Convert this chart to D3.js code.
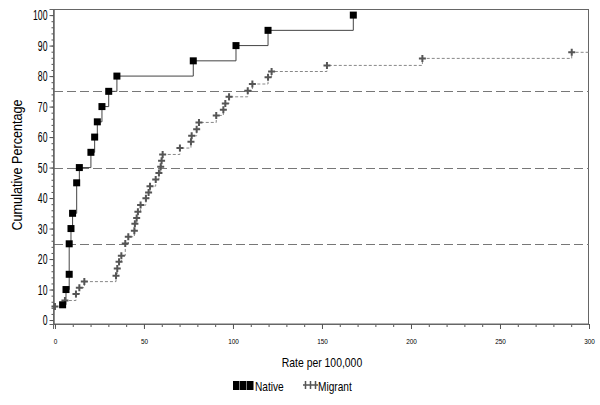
<!DOCTYPE html>
<html>
<head>
<meta charset="utf-8">
<script src="https://cdn.jsdelivr.net/npm/d3@7"></script>
<style>
  body { margin: 0; background: #fff; }
  text { font-family: "Liberation Sans", Arial, sans-serif; }
</style>
</head>
<body>
<div id="chart"></div>
<script>
// values
const nativeRate = [4.3, 6.2, 8.0, 8.0, 9.0, 9.9, 12.2, 13.7, 20.2, 22.3, 23.8, 26.4, 30.2, 34.8, 77.7, 101.7, 119.7, 167.6];
const nativePct  = [5, 10, 15, 25, 30, 35, 45, 50, 55, 60, 65, 70, 75, 80, 85, 90, 95, 100];

const migrantRate = [0, 5.6, 11.8, 13.7, 16.5, 34.3, 35, 36, 37.3, 39.5, 41.2, 44.6, 44.9, 45.9, 46.6, 48.1, 51.1, 52.6,
  53.4, 56.6, 58.4, 59.4, 59.9, 60.5, 70.2, 76.4, 76.8, 79.6, 80.9, 90.6, 94.6, 95.7, 97.8, 108.3, 110.9, 119.7,
  121.7, 152.8, 206.4, 290.3];
const migrantPct  = [4.4, 6.4, 8.5, 10.6, 12.6, 14.5, 16.9, 19.1, 21.1, 25.1, 27.3, 29.3, 31.6, 33.5, 35.5, 37.7, 39.9, 41.8,
  43.9, 46.1, 48.2, 50.3, 52.2, 54.3, 56.4, 58.5, 60.4, 62.6, 64.8, 67.1, 69.0, 71.0, 73.2, 75.2, 77.4, 79.6,
  81.5, 83.5, 85.8, 87.8];

const refLines = [25, 50, 75];
const yTicks = [0, 10, 20, 30, 40, 50, 60, 70, 80, 90, 100];
const xTicks = [0, 50, 100, 150, 200, 250, 300];

const W = 600, H = 405;
const svg = d3.select("#chart").append("svg")
  .attr("width", W).attr("height", H);

const x = d3.scaleLinear().domain([-1.1, 300]).range([53, 589]);
const y = d3.scaleLinear().domain([-1.3, 102]).range([324, 9]);

const nativeData = nativeRate.map((r, i) => ({ r: r, p: nativePct[i] }));
const migrantData = migrantRate.map((r, i) => ({ r: r, p: migrantPct[i] }));

// squeeze text horizontally, the original uses a narrow face
function narrow(sel, k) {
  sel.each(function() {
    const w = this.getComputedTextLength();
    d3.select(this).attr("textLength", w * k).attr("lengthAdjust", "spacingAndGlyphs");
  });
}

// frame
svg.append("rect")
  .attr("x", 53.5).attr("y", 9.5)
  .attr("width", 535).attr("height", 314.5)
  .attr("fill", "none").attr("stroke", "#666").attr("stroke-width", 1);

// reference lines
svg.selectAll(".ref")
  .data(refLines)
  .enter().append("line")
  .attr("x1", 54).attr("x2", 589)
  .attr("y1", d => Math.round(y(d)) + 0.5).attr("y2", d => Math.round(y(d)) + 0.5)
  .attr("stroke", "#777").attr("stroke-width", 1)
  .attr("stroke-dasharray", "9,4");

// axes
const yAxis = d3.axisLeft(y).tickValues(yTicks).tickSize(4).tickPadding(2);
const yMinor = d3.axisLeft(y).tickValues(d3.range(0, 101, 2)).tickSize(2).tickFormat("");
const xAxis = d3.axisBottom(x).tickValues(xTicks).tickSize(5).tickPadding(9);
const xMinor = d3.axisBottom(x).tickValues(d3.range(0, 301, 10)).tickSize(3).tickFormat("");

svg.append("g").attr("transform", "translate(53.5,0)").call(yMinor);
const gy = svg.append("g").attr("transform", "translate(53.5,0)").call(yAxis);
gy.selectAll("text").style("font-size", "14px").attr("fill", "#000").call(narrow, 0.62);

svg.append("g").attr("transform", "translate(0,324)").call(xMinor);
const gx = svg.append("g").attr("transform", "translate(0,324)").call(xAxis);
gx.selectAll("text").style("font-size", "8px").attr("fill", "#000").call(narrow, 0.8);

svg.selectAll(".domain").attr("stroke", "#666");
svg.selectAll(".tick line").attr("stroke", "#555");

// step lines
const line = d3.line()
  .x(d => x(d.r)).y(d => y(d.p))
  .curve(d3.curveStepAfter);

svg.append("path")
  .datum(migrantData.concat([{ r: 300, p: migrantPct[migrantPct.length - 1] }]))
  .attr("d", line)
  .attr("fill", "none").attr("stroke", "#888").attr("stroke-width", 1)
  .attr("stroke-dasharray", "3,2");

svg.append("path")
  .datum(nativeData)
  .attr("d", line)
  .attr("fill", "none").attr("stroke", "#444").attr("stroke-width", 1);

// markers
svg.selectAll(".mig")
  .data(migrantData)
  .enter().append("path")
  .attr("class", "mig")
  .attr("transform", d => `translate(${x(d.r)},${y(d.p)})`)
  .attr("d", "M-3.5,0H3.5M0,-3.5V3.5")
  .attr("stroke", "#555").attr("stroke-width", 2).attr("fill", "none");

svg.selectAll(".nat")
  .data(nativeData)
  .enter().append("rect")
  .attr("class", "nat")
  .attr("x", d => x(d.r) - 3.5).attr("y", d => y(d.p) - 3.5)
  .attr("width", 7).attr("height", 7)
  .attr("fill", "#000");

// axis titles
svg.append("text")
  .attr("transform", "translate(22,165) rotate(-90)")
  .attr("text-anchor", "middle")
  .style("font-size", "14px")
  .text("Cumulative Percentage")
  .call(narrow, 0.9);

svg.append("text")
  .attr("x", 322).attr("y", 367)
  .attr("text-anchor", "middle")
  .style("font-size", "13px")
  .text("Rate per 100,000")
  .call(narrow, 0.8);

// legend
const legend = svg.append("g").attr("transform", "translate(0,386)");
legend.selectAll(".lsq")
  .data([0, 1, 2])
  .enter().append("rect")
  .attr("x", d => 233 + d * 7).attr("y", -5)
  .attr("width", 6.5).attr("height", 9)
  .attr("fill", "#000");
legend.append("text").attr("x", 255).attr("y", 5)
  .style("font-size", "13px").text("Native")
  .call(narrow, 0.78);
legend.selectAll(".lpl")
  .data([0, 1, 2])
  .enter().append("path")
  .attr("transform", d => `translate(${305.5 + d * 5},-1)`)
  .attr("d", "M-2.5,0H2.5M0,-4V4")
  .attr("stroke", "#555").attr("stroke-width", 1.5);
legend.append("text").attr("x", 318).attr("y", 5)
  .style("font-size", "13px").text("Migrant")
  .call(narrow, 0.78);
</script>
</body>
</html>
